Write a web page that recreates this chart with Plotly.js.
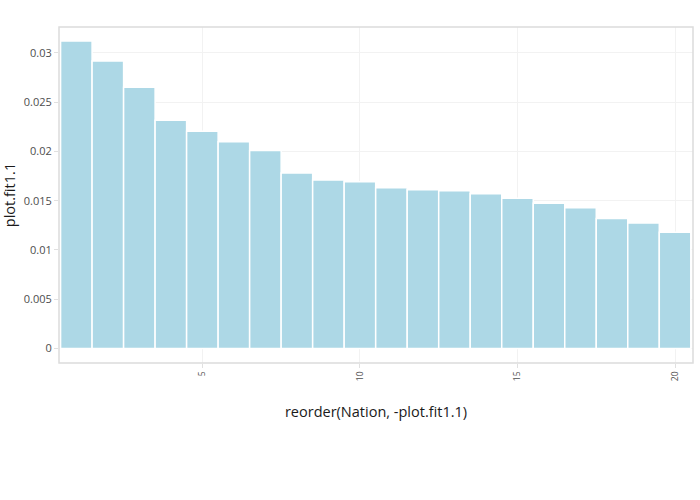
<!DOCTYPE html>
<html>
<head>
<meta charset="utf-8">
<script src="https://cdn.plot.ly/plotly-3.0.1.min.js"></script>
<style>html,body{margin:0;padding:0;background:#fff;}#chart{width:700px;height:500px;}</style>
</head>
<body>
<div id="chart"></div>
<script>
// Rank positions (reorder(Nation, -plot.fit1.1))
const ranks = [1,2,3,4,5,6,7,8,9,10,11,12,13,14,15,16,17,18,19,20];
// plot.fit1.1 values
const fitValues = [0.03121,0.02918,0.02651,0.02316,0.02205,0.02099,0.02008,0.01782,0.01711,0.01691,
                   0.01630,0.01610,0.01600,0.01569,0.01525,0.01475,0.01427,0.01318,0.01272,0.01180];
const xTickVals = [5,10,15,20];
const xTickText = ['5','10','15','20'];
const yTickVals = [0,0.005,0.01,0.015,0.02,0.025,0.03];
const yTickText = ['0','0.005','0.01','0.015','0.02','0.025','0.03'];

const trace = {
  type: 'bar',
  x: ranks,
  y: fitValues,
  width: 1,
  marker: {color: '#ADD8E6', line: {color: '#ffffff', width: 1.5}},
  hoverinfo: 'x+y',
  showlegend: false
};

const layout = {
  width: 700, height: 500,
  margin: {l: 59, r: 7, t: 27, b: 137, pad: 0},
  paper_bgcolor: '#ffffff',
  plot_bgcolor: '#ffffff',
  font: {family: '"Open Sans", sans-serif', color: '#4d4d4d'},
  bargap: 0,
  xaxis: {
    range: [0.45, 20.57],
    tickmode: 'array', tickvals: xTickVals, ticktext: xTickText,
    tickangle: -90,
    tickfont: {size: 8.5, color: '#4d4d4d'},
    ticks: 'outside', ticklen: 4, tickcolor: '#e0e0e0', tickwidth: 1,
    showgrid: true, gridcolor: '#f2f2f2', gridwidth: 1,
    zeroline: false, showline: false, automargin: false,
    title: {text: 'reorder(Nation, -plot.fit1.1)', font: {size: 14.5, color: '#1a1a1a'}, standoff: 26}
  },
  yaxis: {
    range: [-0.00148, 0.03263],
    tickmode: 'array', tickvals: yTickVals, ticktext: yTickText,
    tickfont: {size: 11, color: '#4d4d4d'},
    ticks: 'outside', ticklen: 4, tickcolor: '#e0e0e0', tickwidth: 1,
    showgrid: true, gridcolor: '#f2f2f2', gridwidth: 1,
    zeroline: false, showline: false, automargin: false,
    title: {text: 'plot.fit1.1', font: {size: 14.5, color: '#1a1a1a'}, standoff: 6}
  },
  shapes: [{
    type: 'rect', xref: 'paper', yref: 'paper', x0: 0, x1: 1, y0: 0, y1: 1,
    line: {color: '#dcdcdc', width: 1.5}, fillcolor: 'rgba(0,0,0,0)', layer: 'above'
  }]
};

Plotly.newPlot('chart', [trace], layout, {displayModeBar: false, staticPlot: true});
</script>
</body>
</html>
